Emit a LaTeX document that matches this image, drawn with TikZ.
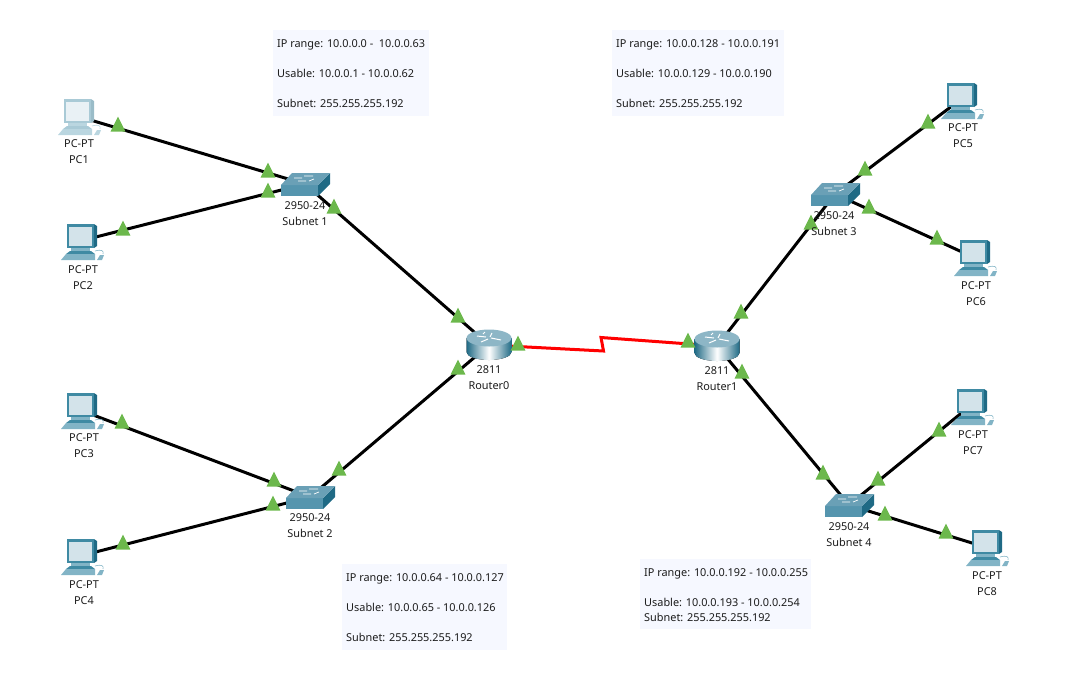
\documentclass[tikz,border=0pt]{standalone}
\usepackage{fontspec}
\setmainfont{Noto Sans}
\usepackage{xcolor}
\usetikzlibrary{shapes.geometric, positioning}

\definecolor{infofill}{HTML}{F6F8FF}
\definecolor{portgreen}{HTML}{6CB84C}
\definecolor{frameblue}{HTML}{3F8AA3}
\definecolor{framedark}{HTML}{1F6A85}
\definecolor{screenblue}{HTML}{D3E3EA}
\definecolor{plateblue}{HTML}{82B4C6}
\definecolor{swtop}{HTML}{6AA0B6}
\definecolor{swfront}{HTML}{5595AE}
\definecolor{rttop}{HTML}{8DB6C6}
\definecolor{textdark}{HTML}{1C1C1C}

\tikzset{
    pics/pcicon/.style={code={
        \fill[framedark] (14,-17) -- (17,-15) -- (17,5) -- (14,7) -- cycle;
        \fill[frameblue] (-13,-17) rectangle (14,7);
        \fill[screenblue] (-11,-14.5) rectangle (12,5);
        \fill[plateblue] (-9,7) rectangle (10,10);
        \fill[frameblue] (-14,13) -- (-10,10) -- (11,10) -- (15,13) -- cycle;
        \fill[plateblue] (-19,19) -- (-14,13) -- (15,13) -- (15,19) -- cycle;
        \fill[plateblue] (17,19) -- (20,14) -- (24,14) -- (22,19) -- cycle;
        \draw[plateblue, line width=.6pt] (15,10) .. controls (22,8) and (24,10) .. (23,13);
    }},
    pics/switchicon/.style={code={
        \fill[swfront] (-24,1) rectangle (13,12);
        \fill[framedark] (13,1) -- (25,-11) -- (25,0) -- (13,12) -- cycle;
        \fill[swtop] (-24,1) -- (-13,-11) -- (25,-11) -- (13,1) -- cycle;
        \draw[white, line width=.7pt] (-11,-6) -- (-3,-6) (-1,-8) -- (8,-8) (-7,-3) -- (1,-3) (4,-3) -- (9,-5);
    }},
    pics/routericon/.style={code={
        \fill[left color=framedark, right color=framedark, middle color=white] (-22.5,-7) -- (-22.5,7) arc[start angle=180, end angle=0, x radius=22.5, y radius=8] -- (22.5,-7) -- cycle;
        \fill[rttop] (0,-7) ellipse [x radius=22.5, y radius=8.5];
        \draw[white, line width=1pt] (-12,-9) -- (-3,-8) (-8,-3) -- (-1,-6) (3,-12) -- (1,-8) (2,-7) -- (12,-5) (-4,-13) -- (-6,-11);
    }},
    infobox/.style={rectangle, fill=infofill, anchor=north west, inner sep=0pt},
    infotext/.style={anchor=west, inner sep=0pt, align=left, font=\fontsize{10.9}{15}\selectfont, text=textdark},
    devlabel/.style={align=center, inner sep=0pt, font=\fontsize{10.9}{16}\selectfont, text=textdark},
    device/.style={inner sep=0pt, minimum size=2pt},
    netlink/.style={line width=3pt, black},
    seriallink/.style={line width=3pt, red, line join=miter},
    portup/.style={isosceles triangle, isosceles triangle apex angle=53, shape border rotate=90, fill=portgreen, inner sep=0pt, outer sep=0pt, minimum height=15pt}
}

\begin{document}
\begin{tikzpicture}[x=1pt, y=-1pt]
\useasboundingbox (0,0) rectangle (1075,697);

% devices
\node (pc1) [device] at (77,116) {};
\node (pc2) [device] at (80,241) {};
\node (pc3) [device] at (80,410) {};
\node (pc4) [device] at (80,556) {};
\node (pc5) [device] at (960,100) {};
\node (pc6) [device] at (973,257) {};
\node (pc7) [device] at (970,406) {};
\node (pc8) [device] at (985,547) {};
\node (sw1) [device] at (305,184) {};
\node (sw2) [device] at (310,497) {};
\node (sw3) [device] at (835,194) {};
\node (sw4) [device] at (849,505) {};
\node (r0) [device] at (489,345) {};
\node (r1) [device] at (717,346) {};
\coordinate (zigA) at (603.5,351);
\coordinate (zigB) at (601,337.5);

% links
\draw [netlink] (pc1) -- (sw1);
\draw [netlink] (pc2) -- (sw1);
\draw [netlink] (pc3) -- (sw2);
\draw [netlink] (pc4) -- (sw2);
\draw [netlink] (pc5) -- (sw3);
\draw [netlink] (pc6) -- (sw3);
\draw [netlink] (pc7) -- (sw4);
\draw [netlink] (pc8) -- (sw4);
\draw [netlink] (sw1) -- (r0);
\draw [netlink] (sw2) -- (r0);
\draw [netlink] (sw3) -- (r1);
\draw [netlink] (sw4) -- (r1);
\draw [seriallink] (r0) -- (zigA) -- (zigB) -- (r1);

% icons
\begin{scope}
\colorlet{frameblue}{frameblue!45!white}
\colorlet{framedark}{framedark!45!white}
\colorlet{screenblue}{screenblue!50!white}
\colorlet{plateblue}{plateblue!55!white}
\pic at (pc1) {pcicon};
\end{scope}
\foreach \n in {pc2,pc3,pc4,pc5,pc6,pc7,pc8} \pic at (\n) {pcicon};
\foreach \n in {sw1,sw2,sw3,sw4} \pic at (\n) {switchicon};
\foreach \n in {r0,r1} \pic at (\n) {routericon};

% link lights
\foreach \x/\y [count=\i] in {118/127,268/173,123/231,268/193,334/209,458/318,458/370,339/471,122/424,274/482,123/545,273/506,518/346,688/343,928/124,865/171,869/209,937/240,811/225,741/314,742/374,823/475,878/481,939/432,885/516,946/534}
    \node (port\i) [portup] at (\x,\y) {};

% labels
\node (pc1lab) [devlabel] at (79,152) {PC-PT\\PC1};
\node (pc2lab) [devlabel] at (83,278) {PC-PT\\PC2};
\node (pc3lab) [devlabel] at (84,446) {PC-PT\\PC3};
\node (pc4lab) [devlabel] at (84,593) {PC-PT\\PC4};
\node (pc5lab) [devlabel] at (963,136) {PC-PT\\PC5};
\node (pc6lab) [devlabel] at (976,294) {PC-PT\\PC6};
\node (pc7lab) [devlabel] at (973,443) {PC-PT\\PC7};
\node (pc8lab) [devlabel] at (987,584) {PC-PT\\PC8};
\node (sw1lab) [devlabel] at (305,214) {2950-24\\Subnet 1};
\node (sw2lab) [devlabel] at (310,526) {2950-24\\Subnet 2};
\node (sw3lab) [devlabel] at (834,224) {2950-24\\Subnet 3};
\node (sw4lab) [devlabel] at (849,535) {2950-24\\Subnet 4};
\node (r0lab) [devlabel] at (489,378) {2811\\Router0};
\node (r1lab) [devlabel] at (717,379) {2811\\Router1};

% subnet notes
\node (info1) [infobox, minimum width=156pt, minimum height=86pt] at (273,30) {};
\node (info2) [infobox, minimum width=172pt, minimum height=86pt] at (612,30) {};
\node (info3) [infobox, minimum width=165pt, minimum height=86pt] at (342,564) {};
\node (info4) [infobox, minimum width=171pt, minimum height=70pt] at (640,559) {};
\node (info1txt) [infotext, right=4pt of info1.west, yshift=-.5pt, anchor=west] {IP range: 10.0.0.0 - \ 10.0.0.63\\[15pt]Usable: 10.0.0.1 - 10.0.0.62\\[15pt]Subnet: 255.255.255.192};
\node (info2txt) [infotext, right=4pt of info2.west, yshift=-.5pt, anchor=west] {IP range: 10.0.0.128 - 10.0.0.191\\[15pt]Usable: 10.0.0.129 - 10.0.0.190\\[15pt]Subnet: 255.255.255.192};
\node (info3txt) [infotext, right=4pt of info3.west, yshift=-.5pt, anchor=west] {IP range: 10.0.0.64 - 10.0.0.127\\[15pt]Usable: 10.0.0.65 - 10.0.0.126\\[15pt]Subnet: 255.255.255.192};
\node (info4txt) [infotext, right=4pt of info4.west, yshift=-.5pt, anchor=west] {IP range: 10.0.0.192 - 10.0.0.255\\[15pt]Usable: 10.0.0.193 - 10.0.0.254\\Subnet: 255.255.255.192};

\end{tikzpicture}
\end{document}
